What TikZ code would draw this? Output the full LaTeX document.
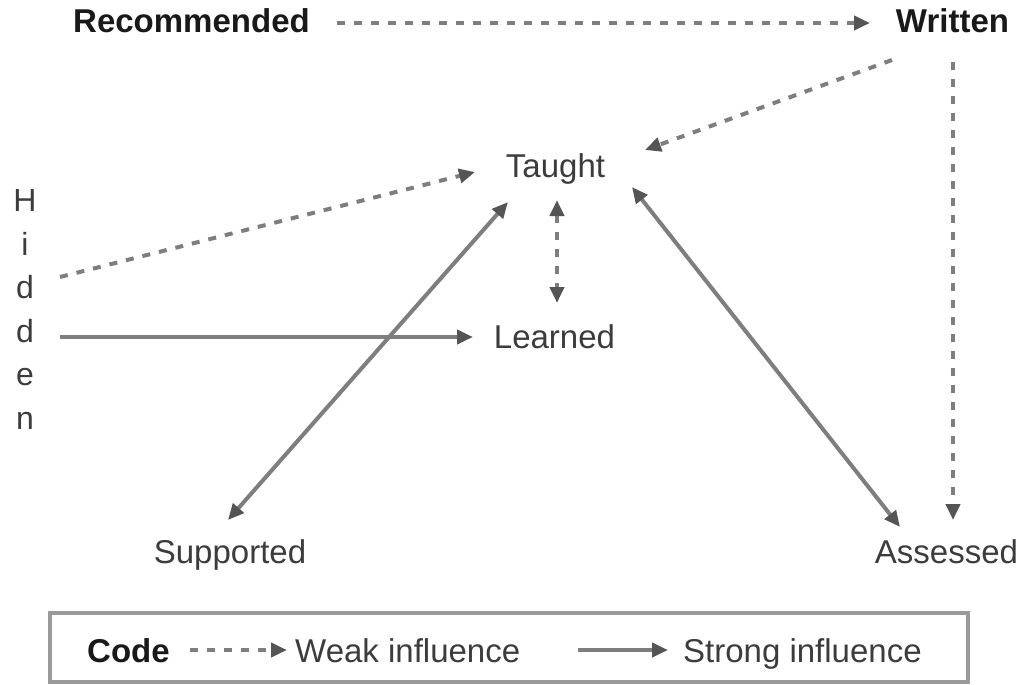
\documentclass[tikz,border=0pt]{standalone}
\usepackage{fontspec}
\setmainfont{Liberation Sans}
\usetikzlibrary{arrows.meta}
\definecolor{txtgray}{HTML}{3C3C3C}
\definecolor{linegray}{HTML}{7E7E7E}
\definecolor{tipgray}{HTML}{555555}
\definecolor{boxgray}{HTML}{9A9A9A}
\tikzset{
  lbl/.style={font=\fontsize{33}{40}\selectfont, text=txtgray, inner sep=0pt},
  blbl/.style={font=\fontsize{33}{40}\selectfont\bfseries, text=black!90, inner sep=0pt},
  conn/.style={draw=linegray, line width=4pt, >={Triangle[length=16pt,width=14pt,color=tipgray]}},
  weak/.style={conn, dash pattern=on 8pt off 9pt},
  strong/.style={conn},
}
\begin{document}
\begin{tikzpicture}[x=1pt,y=-1pt]
\fill[white] (0,0) rectangle (1028,685);
\useasboundingbox (0,0) rectangle (1028,685);

% labels
\node[blbl, anchor=base] (rec) at (191.5,33) {Recommended};
\node[blbl, anchor=base] (wri) at (952.5,33) {Written};
\node[lbl, anchor=base] (tau) at (555.5,177) {Taught};
\node[lbl, anchor=base] (lea) at (554.5,348) {Learned};
\node[lbl, anchor=base] (sup) at (230,563) {Supported};
\node[lbl, anchor=base] (ass) at (946.5,563) {Assessed};
\node[lbl, align=center, font=\fontsize{32}{43.6}\selectfont] (hid) at (25,309.5) {H\\i\\d\\d\\e\\n};

% connectors
\draw[weak, ->] ([shift={(145.5,-10)}]rec.base) -- ([shift={(-82.5,-10)}]wri.base);
\draw[weak, ->] ([shift={(-60.5,27)}]wri.base) -- ([shift={(89.5,-27)}]tau.base);
\draw[weak, ->] ([shift={(0.5,29)}]wri.base) -- ([shift={(6.5,-43)}]ass.base);
\draw[weak, ->] ([shift={(35,-32.5)}]hid.center) -- ([shift={(-80.5,-5)}]tau.base);
\draw[strong, ->] ([shift={(35,27.5)}]hid.center) -- ([shift={(-81.5,-11)}]lea.base);
\draw[weak, <->] ([shift={(1.5,23)}]tau.base) -- ([shift={(2.5,-45)}]lea.base);
\draw[strong, <->] ([shift={(-2,-43)}]sup.base) -- ([shift={(-47.5,25)}]tau.base);
\draw[strong, <->] ([shift={(76.5,10)}]tau.base) -- ([shift={(-46.5,-36)}]ass.base);

% legend
\node[draw=boxgray, line width=4pt, minimum width=918pt, minimum height=69pt, inner sep=0pt] (legend) at (509,647.5) {};
\node[blbl, anchor=base west] (code) at (87,662) {Code};
\node[lbl, anchor=base west] (weakl) at (295,662) {Weak influence};
\node[lbl, anchor=base west] (strongl) at (683,662) {Strong influence};
\draw[weak, ->] ([shift={(103,-12)}]code.base west) -- ([shift={(-8,-12)}]weakl.base west);
\draw[strong, ->] ([shift={(-105,-12)}]strongl.base west) -- ([shift={(-15,-12)}]strongl.base west);
\end{tikzpicture}
\end{document}
